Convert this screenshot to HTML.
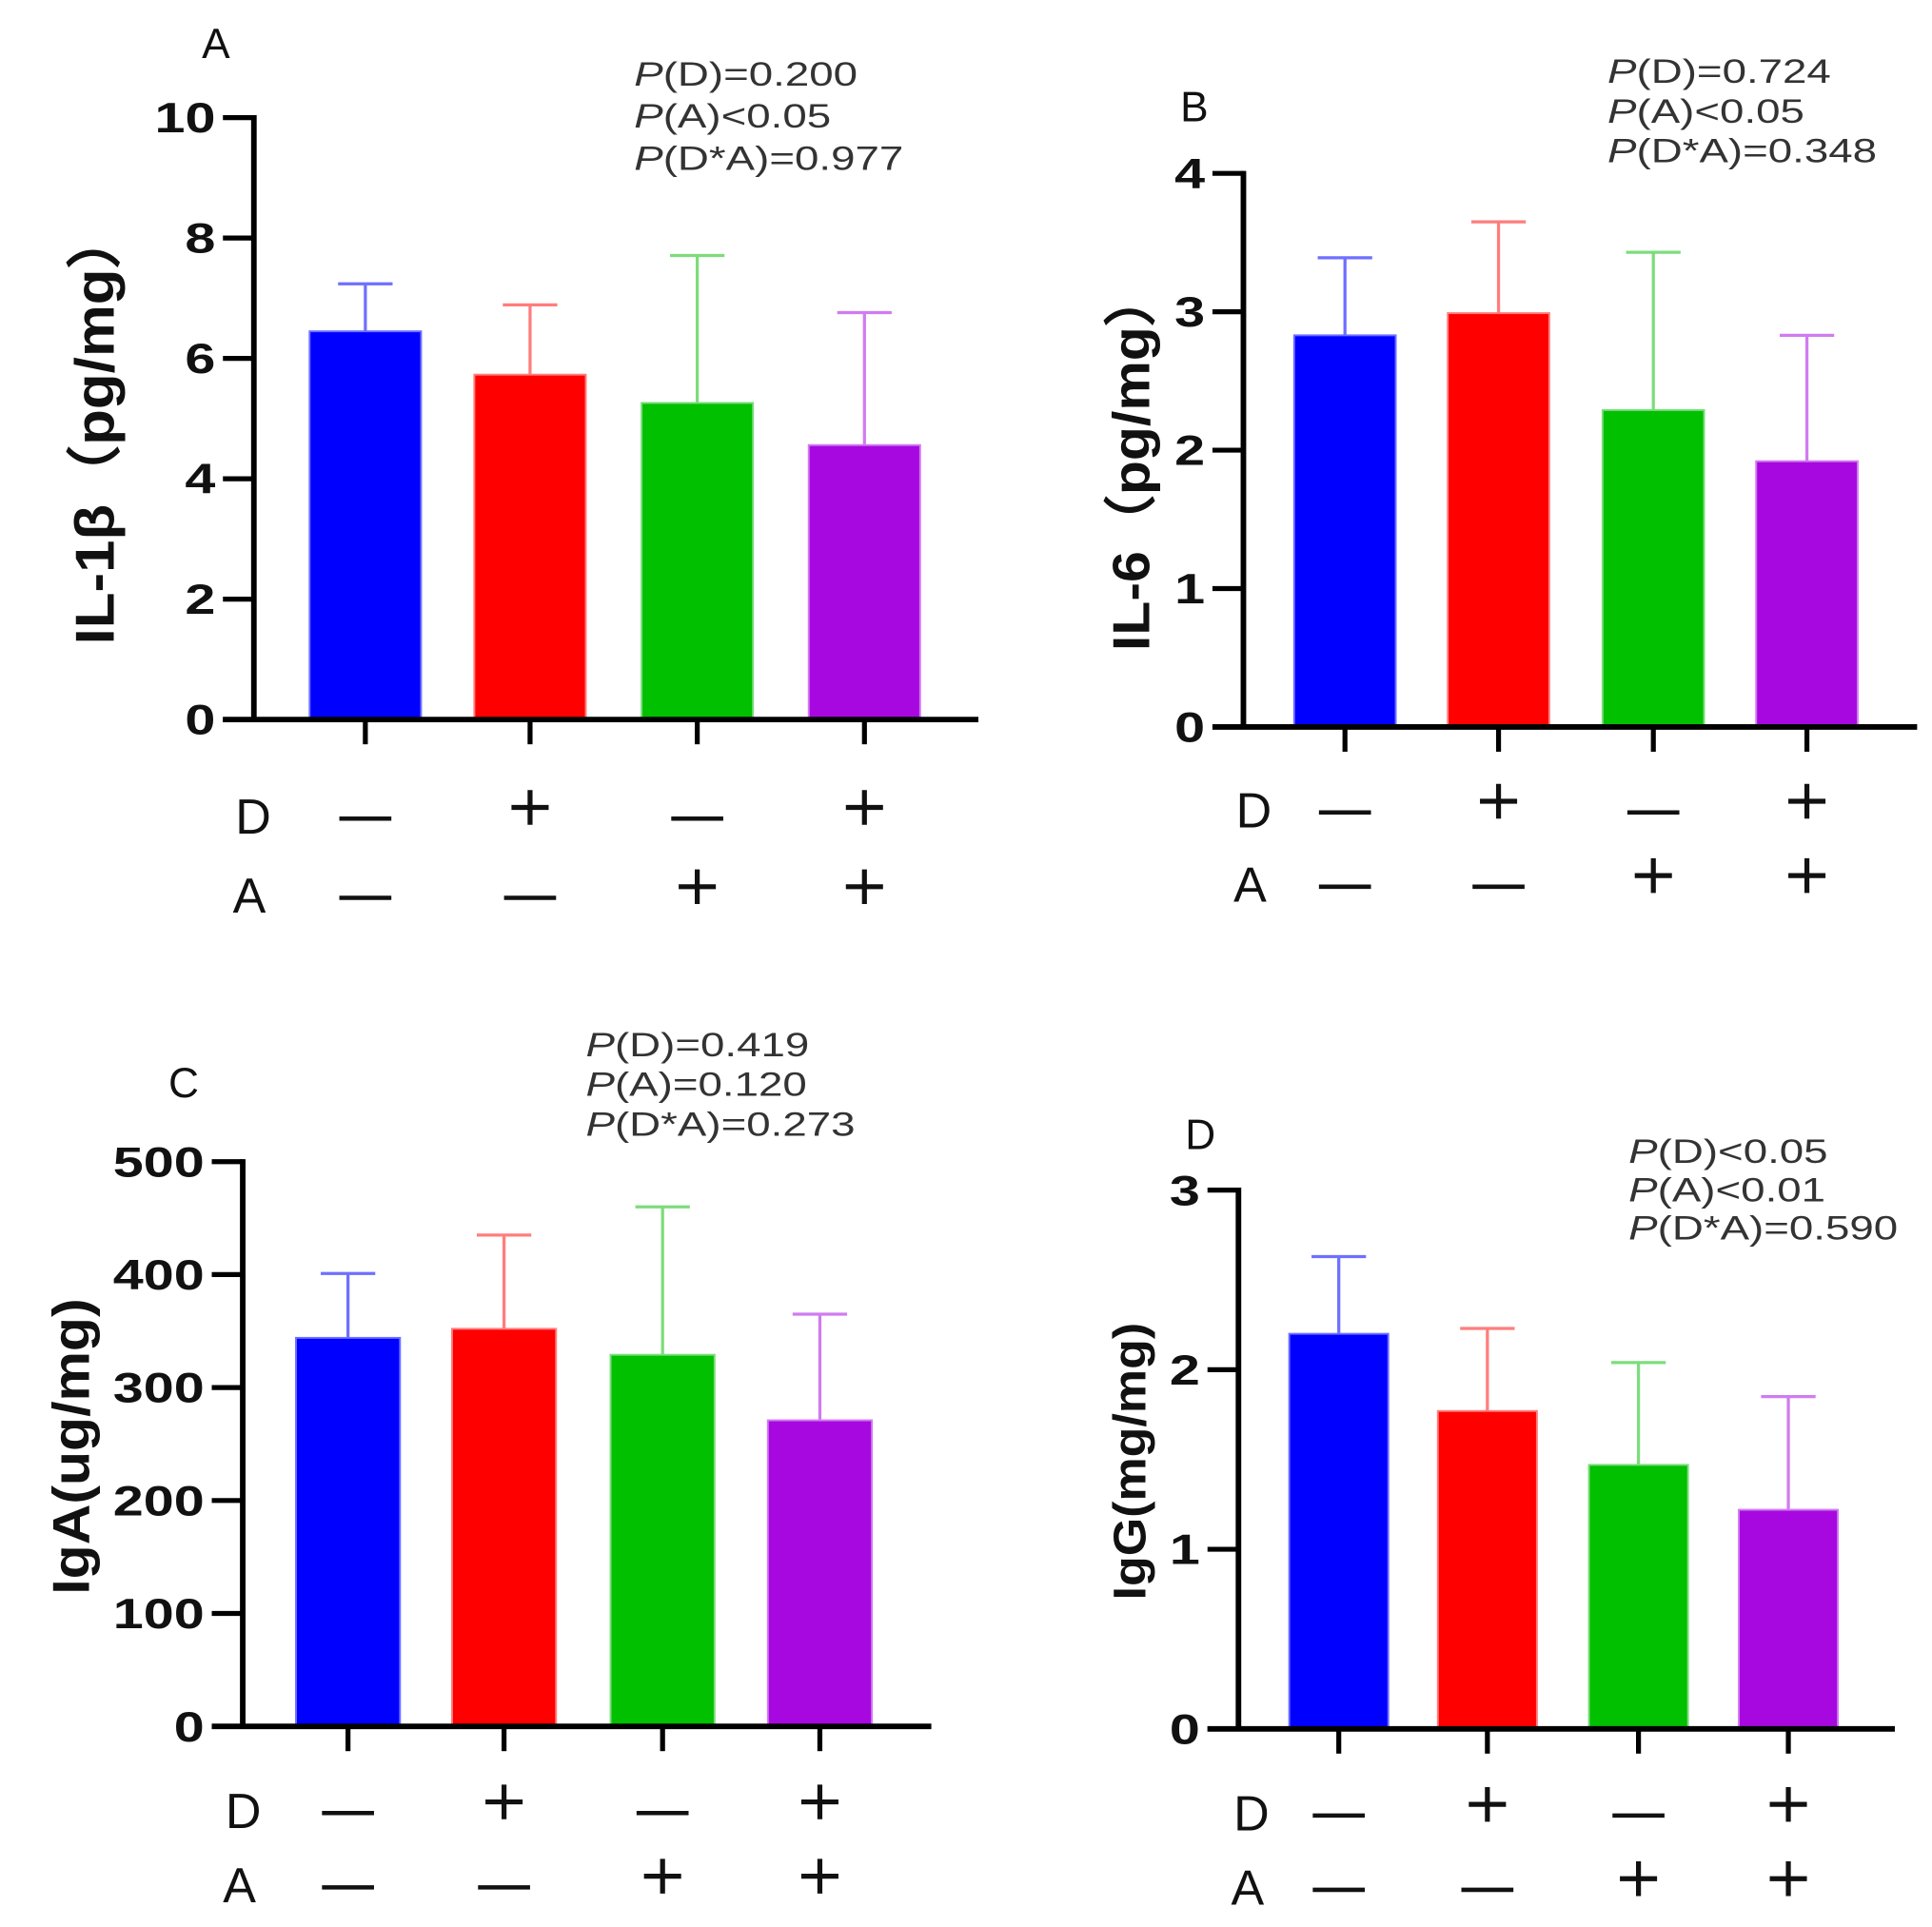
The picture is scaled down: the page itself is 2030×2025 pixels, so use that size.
<!DOCTYPE html>
<html><head><meta charset="utf-8"><style>
html,body{margin:0;padding:0;background:#fff}
svg{display:block}
text{font-family:"Liberation Sans",sans-serif}
</style></head><body>
<svg id="chart" width="2030" height="2025" viewBox="0 0 1560 1556" preserveAspectRatio="none" xmlns="http://www.w3.org/2000/svg"></svg>
<script>
const groups = ["G1","G2","G3","G4"];
const dRow = ["-","+","-","+"];
const aRow = ["-","-","+","+"];
const colors = ["#0000ff","#ff0000","#00c000","#a808e0"];
const errColors = ["#6f6fff","#ff7d7d","#7ddc7d","#d07cf0"];
const meansA = [6.45, 5.73, 5.26, 4.56];
const errA = [7.24, 6.89, 7.71, 6.76];
const ticksA = [0,2,4,6,8,10];
const meansB = [2.83, 2.99, 2.29, 1.92];
const errB = [3.39, 3.65, 3.43, 2.83];
const ticksB = [0,1,2,3,4];
const meansC = [344, 352, 329, 271];
const errC = [401, 435, 460, 365];
const ticksC = [0,100,200,300,400,500];
const meansD = [2.20, 1.77, 1.47, 1.22];
const errD = [2.63, 2.23, 2.04, 1.85];
const ticksD = [0,1,2,3];
const pA = ["(D)=0.200","(A)\u003c0.05","(D*A)=0.977"];
const pB = ["(D)=0.724","(A)\u003c0.05","(D*A)=0.348"];
const pC = ["(D)=0.419","(A)=0.120","(D*A)=0.273"];
const pD = ["(D)\u003c0.05","(A)\u003c0.01","(D*A)=0.590"];

const svg = document.getElementById('chart');
const NS = "http://www.w3.org/2000/svg";
function mk(tag, attrs, parent){const e=document.createElementNS(NS,tag);for(const k in attrs)e.setAttribute(k,attrs[k]);(parent||svg).appendChild(e);return e;}
function stretch(t,f){const w=t.getComputedTextLength();if(w>0){t.setAttribute('textLength',w*f);t.setAttribute('lengthAdjust','spacingAndGlyphs');}}

function panel(cfg){
  const g = mk('g',{});
  
  
  const max = cfg.ticks[cfg.ticks.length-1];
  const yS = v => cfg.y0 - (v/max)*(cfg.y0-cfg.yTop);
  const bw = cfg.bw;
  cfg.means.forEach((m,i)=>{
    const cx = cfg.centers[i];
    const eb = mk('line',{x1:cx,x2:cx,y1:yS(m),y2:yS(cfg.errs[i]),stroke:errColors[i],'stroke-width':2.5},g);
    
    
    const cap = mk('line',{x1:cx-22,x2:cx+22,y1:yS(cfg.errs[i]),y2:yS(cfg.errs[i]),stroke:errColors[i],'stroke-width':2.5},g);
    
    
    const r = mk('rect',{x:cx-bw/2,y:yS(m),width:bw,height:cfg.y0-yS(m),fill:colors[i],stroke:errColors[i],'stroke-width':1.5},g);
    
    
    const t = mk('line',{x1:cx,x2:cx,y1:cfg.y0,y2:cfg.y0+20,stroke:'#000','stroke-width':4},g);
    
    
    [[dRow[i],cfg.dY],[aRow[i],cfg.aY]].forEach(([s,yy])=>{
      if(s==='-'){const l=mk('line',{x1:cx-21,x2:cx+21,y1:yy+4,y2:yy+4,stroke:'#111','stroke-width':3.5},g);
        
        }
      else{const p=mk('path',{d:`M${cx-15} ${yy-5}H${cx+15}M${cx} ${yy-19}V${yy+9}`,stroke:'#111','stroke-width':4,fill:'none'},g);
        
        }
    });
  });
  const ya = mk('line',{x1:cfg.x0,x2:cfg.x0,y1:yS(max)-2,y2:cfg.y0+2,stroke:'#000','stroke-width':4.5},g);
  
  
  const xa = mk('line',{x1:cfg.x0-25,x2:cfg.xEnd,y1:cfg.y0,y2:cfg.y0,stroke:'#000','stroke-width':4.5},g);
  
  
  cfg.ticks.forEach(v=>{
    mk('line',{x1:cfg.x0-25,x2:cfg.x0,y1:yS(v),y2:yS(v),stroke:'#000','stroke-width':4},g);
    const t = mk('text',{x:cfg.x0-31,y:yS(v)+12,'text-anchor':'end','font-size':34,'font-weight':'bold',fill:'#111'},g);
    t.textContent = v;
    
    
    stretch(t,1.3);
  });
  const at = mk('text',{x:0,y:0,'text-anchor':'middle','font-size':cfg.titleSize,'font-weight':'bold',fill:'#111',transform:`translate(${cfg.titleX},${cfg.titleY}) rotate(-90)`},g);
  at.textContent = cfg.title;
  
  
  stretch(at,1.08);
  const pl = mk('text',{x:cfg.letterX,y:cfg.letterY,'font-size':34,fill:'#111'},g);
  pl.textContent = cfg.id;
  
  
  const dl = mk('text',{x:cfg.rowX,y:cfg.dY+16,'font-size':40,fill:'#111'},g);
  dl.textContent='D';
  
  
  const al = mk('text',{x:cfg.rowX-2,y:cfg.aY+16,'font-size':40,fill:'#111'},g);
  al.textContent='A';
  
  
  cfg.p.forEach((s,i)=>{
    const t = mk('text',{x:cfg.pX,y:cfg.pY+i*cfg.pGap,'font-size':27,fill:'#333'},g);
    
    
    const it = mk('tspan',{'font-style':'italic'},t); it.textContent='P';
    const rs = mk('tspan',{},t); rs.textContent=s;
    stretch(t,1.3);
  });
}

panel({id:'A',x0:205,y0:581,yTop:95,xEnd:790,bw:90,centers:[295,428,563,698],means:meansA,errs:errA,ticks:ticksA,
  dY:657,aY:721,rowX:190,title:'IL-1β（pg/mg）',titleSize:44,titleX:92,titleY:345,letterX:163,letterY:47,p:pA,pX:512,pY:69,pGap:34});
panel({id:'B',x0:1004,y0:587,yTop:140,xEnd:1548,bw:82,centers:[1086,1210,1335,1459],means:meansB,errs:errB,ticks:ticksB,
  dY:652,aY:712,rowX:998,title:'IL-6（pg/mg）',titleSize:42,titleX:928,titleY:372,letterX:953,letterY:98,p:pB,pX:1298,pY:67,pGap:32});
panel({id:'C',x0:196,y0:1394,yTop:938,xEnd:752,bw:84,centers:[281,407,535,662],means:meansC,errs:errC,ticks:ticksC,
  dY:1460,aY:1520,rowX:182,title:'IgA(ug/mg)',titleSize:42,titleX:72,titleY:1168,letterX:136,letterY:886,p:pC,pX:473,pY:853,pGap:32});
panel({id:'D',x0:1000,y0:1396,yTop:961,xEnd:1530,bw:80,centers:[1081,1201,1323,1444],means:meansD,errs:errD,ticks:ticksD,
  dY:1462,aY:1522,rowX:996,title:'IgG(mg/mg)',titleSize:37,titleX:925,titleY:1180,letterX:957,letterY:928,p:pD,pX:1315,pY:939,pGap:31});
</script>
</body></html>
